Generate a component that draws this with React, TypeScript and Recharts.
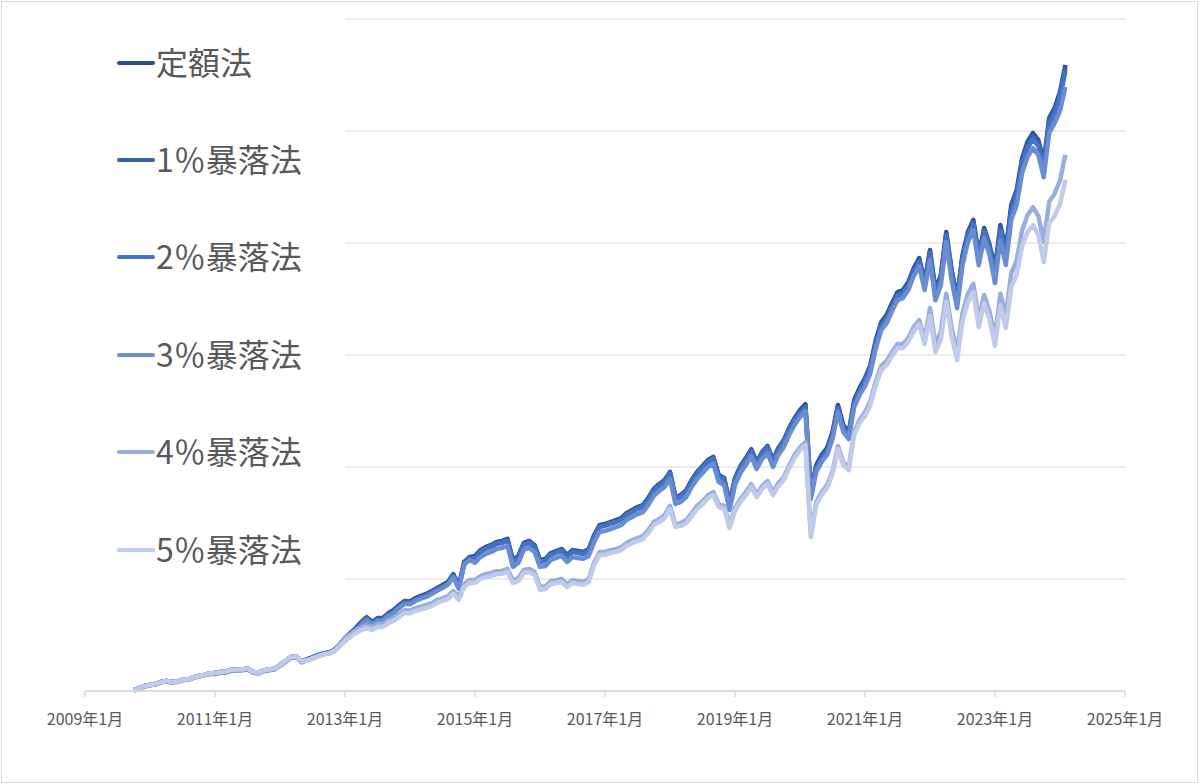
import { LineChart, Line, XAxis, YAxis, CartesianGrid, Legend } from "recharts";

// 月次データ 2009年10月〜2024年2月（評価額, 単位は目盛り500刻み）
const START_YEAR = 2009;
const START_MONTH = 10;

const teigaku = [
   4, 13, 22,
   27, 31, 40, 45, 40, 42, 50, 52, 60, 67, 72, 78,
   80, 85, 86, 94, 96, 96, 100, 86, 82, 92, 96, 100,
   116, 134, 152, 154, 132, 141, 150, 160, 168, 172, 182, 205,
   237, 259, 281, 308, 330, 308, 326, 326, 348, 362, 384, 402,
   400, 415, 425, 433, 446, 460, 473, 487, 522, 469, 576, 598,
   603, 629, 643, 652, 665, 670, 679, 585, 603, 661, 670, 652,
   585, 589, 616, 625, 634, 607, 629, 625, 621, 634, 696, 741,
   746, 754, 763, 772, 795, 808, 821, 830, 862, 902, 924, 942,
   978, 866, 875, 897, 942, 978, 1004, 1031, 1045, 964, 951, 839,
   951, 1004, 1040, 1080, 1022, 1067, 1094, 1031, 1085, 1120, 1174, 1219,
   1254, 1281, 888, 1009, 1054, 1085, 1156, 1277, 1187, 1156, 1299, 1353,
   1397, 1455, 1567, 1647, 1679, 1732, 1781, 1790, 1826, 1888, 1933, 1826,
   1969, 1790, 1857, 2049, 1879, 1754, 1946, 2049, 2103, 1946, 2067, 1991,
   1888, 2080, 1969, 2170, 2236, 2379, 2451, 2491, 2460, 2361, 2558, 2602,
   2674, 2795,
];

const crash1 = [
   4, 13, 22,
   27, 31, 40, 45, 40, 42, 50, 52, 60, 67, 72, 78,
   80, 85, 86, 94, 96, 96, 100, 86, 82, 92, 96, 100,
   116, 134, 152, 154, 132, 141, 150, 160, 168, 172, 182, 205,
   233, 255, 277, 304, 326, 304, 322, 322, 344, 358, 380, 398,
   396, 411, 421, 429, 442, 456, 469, 483, 518, 465, 572, 594,
   599, 625, 639, 648, 661, 666, 675, 581, 599, 657, 666, 648,
   581, 585, 612, 621, 630, 603, 625, 621, 617, 630, 692, 737,
   742, 750, 759, 768, 791, 804, 817, 826, 858, 898, 920, 938,
   974, 862, 871, 893, 938, 974, 1000, 1027, 1041, 960, 947, 835,
   947, 1000, 1036, 1076, 1018, 1063, 1090, 1027, 1081, 1116, 1170, 1215,
   1245, 1272, 879, 1000, 1045, 1076, 1147, 1268, 1178, 1147, 1290, 1344,
   1388, 1446, 1558, 1638, 1670, 1723, 1772, 1781, 1817, 1879, 1924, 1817,
   1960, 1781, 1848, 2040, 1870, 1745, 1937, 2040, 2094, 1937, 2058, 1982,
   1875, 2067, 1956, 2157, 2223, 2366, 2438, 2478, 2447, 2348, 2545, 2589,
   2661, 2782,
];

const crash2 = [
   4, 13, 22,
   27, 31, 40, 45, 40, 42, 50, 52, 60, 67, 72, 78,
   80, 85, 86, 94, 96, 96, 100, 86, 82, 92, 96, 100,
   116, 134, 152, 154, 132, 141, 150, 160, 168, 172, 182, 205,
   228, 250, 272, 299, 321, 299, 317, 317, 339, 353, 375, 393,
   391, 406, 416, 424, 437, 451, 464, 478, 513, 460, 567, 589,
   594, 620, 634, 643, 656, 661, 670, 576, 594, 652, 661, 643,
   576, 580, 607, 616, 625, 598, 620, 616, 612, 625, 687, 732,
   737, 745, 754, 763, 786, 799, 812, 821, 853, 893, 915, 933,
   969, 857, 866, 888, 933, 969, 995, 1022, 1036, 955, 942, 830,
   942, 995, 1031, 1071, 1013, 1058, 1085, 1022, 1076, 1111, 1165, 1210,
   1236, 1263, 870, 991, 1036, 1067, 1138, 1259, 1169, 1138, 1281, 1335,
   1379, 1437, 1549, 1629, 1661, 1714, 1763, 1772, 1808, 1870, 1915, 1808,
   1951, 1772, 1839, 2031, 1861, 1736, 1928, 2031, 2085, 1928, 2049, 1973,
   1861, 2053, 1942, 2143, 2209, 2352, 2424, 2464, 2433, 2334, 2531, 2575,
   2647, 2768,
];

const crash3 = [
   2, 11, 20,
   25, 29, 38, 43, 38, 40, 48, 50, 58, 65, 70, 76,
   76, 81, 82, 90, 92, 92, 96, 82, 78, 88, 92, 96,
   112, 130, 148, 150, 128, 137, 146, 156, 164, 168, 178, 201,
   224, 246, 268, 295, 317, 295, 313, 313, 335, 349, 371, 389,
   387, 402, 412, 420, 433, 447, 460, 474, 509, 456, 563, 585,
   572, 598, 612, 621, 634, 639, 648, 554, 572, 630, 639, 621,
   554, 558, 585, 594, 603, 576, 598, 594, 590, 603, 665, 710,
   715, 723, 732, 741, 764, 777, 790, 799, 831, 871, 893, 911,
   947, 835, 844, 866, 911, 947, 973, 1000, 1014, 933, 920, 808,
   920, 973, 1009, 1049, 991, 1036, 1063, 1000, 1054, 1089, 1143, 1188,
   1223, 1250, 857, 978, 1023, 1054, 1125, 1246, 1156, 1125, 1268, 1322,
   1361, 1419, 1531, 1611, 1643, 1696, 1745, 1754, 1790, 1852, 1897, 1790,
   1924, 1745, 1812, 2004, 1834, 1709, 1901, 2004, 2058, 1901, 2022, 1946,
   1821, 2013, 1902, 2103, 2169, 2312, 2384, 2424, 2393, 2294, 2491, 2535,
   2589, 2697,
];

const crash4 = [
   4, 13, 22,
   27, 31, 40, 45, 40, 42, 50, 52, 60, 67, 72, 78,
   80, 85, 86, 94, 96, 96, 100, 86, 82, 92, 96, 100,
   116, 134, 152, 154, 132, 137, 146, 156, 164, 168, 178, 201,
   237, 254, 272, 285, 294, 285, 299, 299, 316, 326, 343, 361,
   359, 370, 376, 384, 392, 406, 415, 424, 446, 420, 477, 495,
   495, 513, 522, 527, 535, 536, 545, 495, 504, 540, 545, 531,
   464, 468, 491, 495, 500, 477, 495, 491, 487, 500, 575, 620,
   621, 629, 633, 642, 661, 674, 682, 691, 719, 754, 767, 785,
   826, 745, 750, 763, 794, 826, 847, 874, 888, 834, 826, 740,
   817, 856, 888, 923, 879, 915, 937, 888, 928, 954, 1008, 1053,
   1088, 1111, 700, 843, 888, 919, 981, 1094, 1021, 999, 1156, 1210,
   1245, 1294, 1384, 1451, 1474, 1513, 1549, 1549, 1576, 1625, 1656, 1567,
   1710, 1549, 1603, 1773, 1620, 1513, 1687, 1773, 1818, 1661, 1768, 1692,
   1585, 1773, 1676, 1864, 1922, 2056, 2124, 2160, 2121, 2005, 2184, 2220,
   2279, 2394,
];

const crash5 = [
   4, 13, 22,
   27, 31, 40, 45, 40, 42, 50, 52, 60, 67, 72, 78,
   80, 85, 86, 94, 96, 96, 100, 86, 82, 92, 96, 100,
   116, 134, 152, 154, 132, 137, 146, 156, 164, 168, 178, 201,
   224, 241, 259, 272, 281, 272, 286, 286, 303, 313, 330, 348,
   346, 357, 363, 371, 379, 393, 402, 411, 433, 407, 464, 482,
   482, 500, 509, 514, 522, 523, 532, 482, 491, 527, 532, 518,
   451, 455, 478, 482, 487, 464, 482, 478, 474, 487, 562, 607,
   608, 616, 620, 629, 648, 661, 669, 678, 706, 741, 754, 772,
   813, 732, 737, 750, 781, 813, 834, 861, 875, 821, 813, 727,
   804, 843, 875, 910, 866, 902, 924, 875, 915, 941, 995, 1040,
   1075, 1098, 687, 830, 875, 906, 968, 1081, 1008, 986, 1143, 1197,
   1227, 1276, 1366, 1433, 1456, 1495, 1531, 1531, 1558, 1607, 1638, 1549,
   1674, 1513, 1567, 1737, 1584, 1477, 1651, 1737, 1782, 1625, 1732, 1656,
   1540, 1723, 1621, 1804, 1857, 1986, 2049, 2080, 2036, 1915, 2089, 2120,
   2174, 2282,
];

const xTicks = [2009, 2011, 2013, 2015, 2017, 2019, 2021, 2023, 2025];
const yTicks = [0, 500, 1000, 1500, 2000, 2500, 3000];

const series = [
   { key: "teigaku", name: "定額法", color: "#2E4F8E" },
   { key: "crash1", name: "1％暴落法", color: "#3862B0" },
   { key: "crash2", name: "2％暴落法", color: "#4472C4" },
   { key: "crash3", name: "3％暴落法", color: "#6A8CD0" },
   { key: "crash4", name: "4％暴落法", color: "#98AEDD" },
   { key: "crash5", name: "5％暴落法", color: "#BFCBE8" },
];

const data = teigaku.map((v, i) => ({
   t: START_YEAR + (START_MONTH - 1 + i) / 12,
   teigaku: v,
   crash1: crash1[i],
   crash2: crash2[i],
   crash3: crash3[i],
   crash4: crash4[i],
   crash5: crash5[i],
}));

const FONT = '"Noto Sans CJK JP", "Noto Sans", sans-serif';

const LegendBox = () => (
   <div style={{ background: "#fff", width: "100%", height: "100%" }}>
      {series.map((s) => (
         <div
            key={s.key}
            style={{ height: 97.4, display: "flex", alignItems: "center", paddingLeft: 32 }}
         >
            <svg width={38} height={8} style={{ display: "block" }}>
               <line x1={2} y1={4} x2={36} y2={4} stroke={s.color} strokeWidth={4} strokeLinecap="round" />
            </svg>
            <span style={{ fontSize: 32, color: "#595959", marginLeft: 1, lineHeight: 1, position: "relative", top: -2 }}>
               {s.name}
            </span>
         </div>
      ))}
   </div>
);

export default function App() {
   return (
      <div style={{ position: "absolute", left: 0, top: 0, width: 1200, height: 784, background: "#fff", fontFamily: FONT }}>
         {/* outer frame */}
         <div
            style={{
               position: "absolute", left: 1, top: 1, width: 1197, height: 782,
               boxSizing: "border-box", border: "1px solid #D9D9D9",
            }}
         />
         <LineChart
            width={1200}
            height={784}
            data={data}
            margin={{ top: 19, right: 75, bottom: 33, left: 85 }}
            style={{ position: "absolute", left: 0, top: 0 }}
         >
            <CartesianGrid vertical={false} stroke="#D9D9D9" strokeWidth={1} />
            <XAxis
               type="number"
               dataKey="t"
               domain={[2009, 2025]}
               ticks={xTicks}
               interval={0}
               tickFormatter={(v) => `${v}年1月`}
               height={60}
               stroke="#D9D9D9"
               strokeWidth={1.5}
               tickSize={6}
               tickMargin={17}
               tick={{ fill: "#595959", fontSize: 16, fontFamily: FONT }}
            />
            <YAxis hide width={0} domain={[0, 3000]} ticks={yTicks} />
            {series.map((s) => (
               <Line
                  key={s.key}
                  type="linear"
                  dataKey={s.key}
                  name={s.name}
                  stroke={s.color}
                  strokeWidth={4.5}
                  strokeLinejoin="round"
                  dot={false}
                  activeDot={false}
                  isAnimationActive={false}
               />
            ))}
            <Legend
               layout="horizontal"
               align="center"
               verticalAlign="middle"
               wrapperStyle={{ left: 85, top: 14, width: 260, height: 585 }}
               content={() => <LegendBox />}
            />
         </LineChart>
      </div>
   );
}
